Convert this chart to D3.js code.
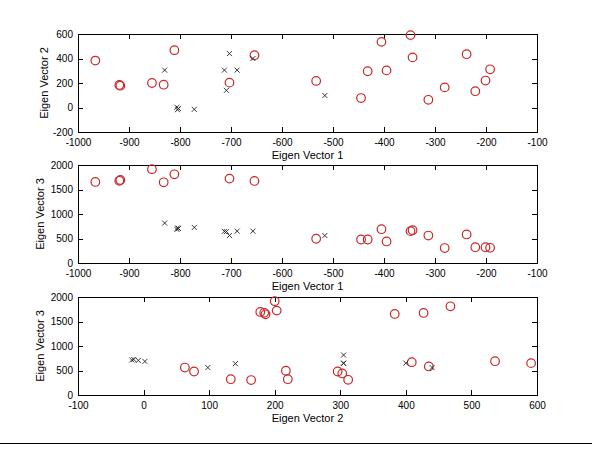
<!DOCTYPE html>
<html>
  <head>
    <meta charset="utf-8">
    <title>Eigen vectors</title>
    <style media="screen">
      body {margin:0; background:#fff}
      text {font-family: "Liberation Sans", Arial, sans-serif; fill:#000}
      .axis path, .axis line {stroke:#000; shape-rendering:crispEdges}
    </style>
  </head>
  <body>
    <script src="https://cdn.jsdelivr.net/npm/d3@7"></script>
    <script type="text/javascript">

    // circles (red)
    const circEv1 = [-966, -919, -917, -855, -832, -811, -703, -654, -533, -445, -432, -405, -395, -348, -344, -313, -281, -238, -221, -201, -192]
    const circEv2 = [383, 184, 178, 200, 186, 468, 203, 427, 217, 77, 296, 536, 303, 591, 409, 63, 164, 435, 133, 220, 312]
    const circEv3 = [1654, 1678, 1695, 1915, 1647, 1810, 1722, 1675, 495, 480, 480, 690, 440, 650, 670, 560, 305, 583, 322, 322, 310]

    // crosses (black)
    const crossEv1 = [-830, -806, -805, -803, -772, -713, -709, -703, -688, -657, -516]
    const crossEv2 = [305, 2, -18, -8, -15, 305, 140, 440, 305, 400, 98]
    const crossEv3 = [815, 685, 715, 705, 725, 645, 640, 560, 650, 650, 560]

    const ticks1 = [-1000, -900, -800, -700, -600, -500, -400, -300, -200, -100]
    const ticks2 = [-200, 0, 200, 400, 600]
    const ticks2b = [-100, 0, 100, 200, 300, 400, 500, 600]
    const ticks3 = [0, 500, 1000, 1500, 2000]

    const panels = [
      {xs: 'ev1', ys: 'ev2', xd: [-1000, -100], yd: [-200, 600], xt: ticks1, yt: ticks2,
       xl: 'Eigen Vector 1', yl: 'Eigen Vector 2', top: 34},
      {xs: 'ev1', ys: 'ev3', xd: [-1000, -100], yd: [0, 2000], xt: ticks1, yt: ticks3,
       xl: 'Eigen Vector 1', yl: 'Eigen Vector 3', top: 165},
      {xs: 'ev2', ys: 'ev3', xd: [-100, 600], yd: [0, 2000], xt: ticks2b, yt: ticks3,
       xl: 'Eigen Vector 2', yl: 'Eigen Vector 3', top: 297}
    ]

    const circles = circEv1.map((d, i) => ({ev1: d, ev2: circEv2[i], ev3: circEv3[i]}))
    const crosses = crossEv1.map((d, i) => ({ev1: d, ev2: crossEv2[i], ev3: crossEv3[i]}))

    const left = 78, right = 537, ph = 98
    const fmt = d => String(d)

    const svg = d3.select('body').append('svg')
      .attr('width', 600)
      .attr('height', 460)

    panels.forEach((p, k) => {
      const x = d3.scaleLinear().domain(p.xd).range([left, right])
      const y = d3.scaleLinear().domain(p.yd).range([p.top + ph, p.top])
      const g = svg.append('g')

      g.append('g').attr('class', 'axis')
        .attr('transform', `translate(0,${p.top + ph})`)
        .call(d3.axisBottom(x).tickValues(p.xt).tickFormat(fmt).tickSizeInner(-5).tickSizeOuter(0).tickPadding(6.5))
      g.append('g').attr('class', 'axis')
        .attr('transform', `translate(0,${p.top})`)
        .call(d3.axisTop(x).tickValues(p.xt).tickSizeInner(-5).tickSizeOuter(0).tickFormat(''))
      g.append('g').attr('class', 'axis')
        .attr('transform', `translate(${left},0)`)
        .call(d3.axisLeft(y).tickValues(p.yt).tickFormat(fmt).tickSizeInner(-5).tickSizeOuter(0).tickPadding(5))
      g.append('g').attr('class', 'axis')
        .attr('transform', `translate(${right},0)`)
        .call(d3.axisRight(y).tickValues(p.yt).tickSizeInner(-5).tickSizeOuter(0).tickFormat(''))

      g.selectAll('.axis text').style('font-size', '10px')
        .style('font-family', '"Liberation Sans", Arial, sans-serif')

      g.append('text')
        .attr('x', (left + right) / 2)
        .attr('y', p.top + ph + 26.5)
        .attr('text-anchor', 'middle')
        .style('font-size', '11px')
        .text(p.xl)

      g.append('text')
        .attr('transform', `translate(${k === 0 ? 48 : 44},${p.top + ph / 2}) rotate(-90)`)
        .attr('text-anchor', 'middle')
        .style('font-size', '11px')
        .text(p.yl)

      g.selectAll('circle.pt').data(circles).join('circle')
        .attr('class', 'pt')
        .attr('cx', d => x(d[p.xs]))
        .attr('cy', d => y(d[p.ys]))
        .attr('r', 4.3)
        .attr('fill', 'none')
        .attr('stroke', '#c8282a')
        .attr('stroke-width', 1.2)

      g.selectAll('path.cr').data(crosses).join('path')
        .attr('class', 'cr')
        .attr('d', d => {
          const cx = x(d[p.xs]), cy = y(d[p.ys]), s = 2.5
          return `M${cx - s},${cy - s}L${cx + s},${cy + s}M${cx - s},${cy + s}L${cx + s},${cy - s}`
        })
        .attr('stroke', '#222')
        .attr('stroke-width', 0.9)
        .attr('fill', 'none')
    })

    svg.append('line')
      .attr('x1', 0).attr('x2', 592)
      .attr('y1', 443.5).attr('y2', 443.5)
      .attr('stroke', '#000')
    </script>
  </body>
</html>
